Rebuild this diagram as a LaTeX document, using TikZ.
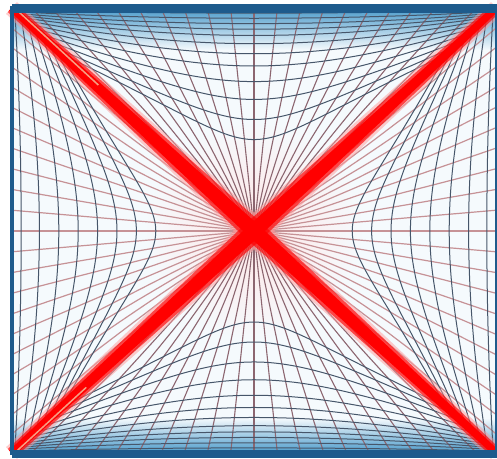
\documentclass[tikz,border=0pt]{standalone}
\usetikzlibrary{calc}
\definecolor{frameblue}{HTML}{1E5B8C}
\definecolor{bgc}{HTML}{F5FAFD}
\definecolor{edgeblue}{HTML}{4B9BCB}
\definecolor{radtb}{HTML}{8C6670}
\definecolor{radlr}{HTML}{C69296}
\definecolor{crossc}{HTML}{46566A}
\definecolor{lightline}{HTML}{F7B090}
\newcommand\myband[4]{%
  \fill[#4] ($(#1)!#2!90:(C)$) -- ($(C)!#3!-90:(#1)$) -- ($(C)!#3!90:(#1)$) -- ($(#1)!#2!-90:(C)$) -- cycle;}
\begin{document}
\begin{tikzpicture}[x=1pt,y=1pt,
  radtbline/.style={draw=radtb,line width=1.1pt},
  radlrline/.style={draw=radlr,line width=1.2pt},
  crossline/.style={draw=crossc,line width=1pt},
  bandouter/.style={fill=red!40,opacity=0.5},
  bandmid/.style={fill=red,opacity=0.65},
  bandcore/.style={fill=red},
  lightstroke/.style={draw=lightline,line width=1.5pt,opacity=0.9}]
\useasboundingbox (0,0) rectangle (497,458);
\def\cx{254}\def\cy{227}\def\W{242.5}\def\Ht{223}\def\Hb{222}\def\Hm{222.5}
\coordinate (C) at (\cx,\cy);
\coordinate (TL) at (11.5,450);
\coordinate (TR) at (496.5,450);
\coordinate (BL) at (11.5,5);
\coordinate (BR) at (496.5,5);
\begin{scope}
\clip (0,0) rectangle (497,458);
\fill[bgc] (BL) rectangle (TR);
\shade[top color=edgeblue, bottom color=bgc] (11.5,408) rectangle (496.5,450);
\shade[top color=bgc, bottom color=edgeblue] (11.5,5) rectangle (496.5,40);
\shade[inner color=red!10, outer color=bgc] (C) circle (110);
% radial lines
\foreach \i in {1,...,21} {
  \pgfmathsetmacro\s{-1+2*\i/22}
  \pgfmathsetmacro\u{\s+0.06*\s*(1-\s*\s)}
  \pgfmathsetmacro\v{\s+0.03*\s*(1-\s*\s)}
  \draw[radtbline] (C) -- ({\cx+\W*\u},{\cy+\Ht});
  \draw[radtbline] (C) -- ({\cx+\W*\u},{\cy-\Hb});
  \draw[radlrline] (C) -- ({\cx-\W},{\cy+\Hm*\v});
  \draw[radlrline] (C) -- ({\cx+\W},{\cy+\Hm*\v});
}
% cross curves, top and bottom
\foreach \g in {0.023,0.046,0.07,0.095,0.123,0.16,0.205,0.26,0.33,0.41,0.5,0.59} {
  \draw[crossline] plot[domain=-1:1,samples=61,smooth]
    ({\cx+(1-\g*(1-0.65*(\x)*(\x)))*\W*((\x)+0.06*(\x)*(1-(\x)*(\x)))},
     {\cy+(1-\g*(1-0.65*(\x)*(\x)))*\Ht});
  \draw[crossline] plot[domain=-1:1,samples=61,smooth]
    ({\cx+(1-\g*(1-0.65*(\x)*(\x)))*\W*((\x)+0.06*(\x)*(1-(\x)*(\x)))},
     {\cy-(1-\g*(1-0.65*(\x)*(\x)))*\Hb});
}
% cross curves, left and right
\foreach \g in {0.04,0.115,0.195,0.275,0.355,0.435,0.515,0.595} {
  \draw[crossline] plot[domain=-1:1,samples=61,smooth]
    ({\cx-(1-\g*(1-0.65*(\x)*(\x)))*\W},
     {\cy+(1-\g*(1-0.65*(\x)*(\x)))*\Hm*((\x)+0.03*(\x)*(1-(\x)*(\x)))});
  \draw[crossline] plot[domain=-1:1,samples=61,smooth]
    ({\cx+(1-\g*(1-0.65*(\x)*(\x)))*\W},
     {\cy+(1-\g*(1-0.65*(\x)*(\x)))*\Hm*((\x)+0.03*(\x)*(1-(\x)*(\x)))});
}
% red diagonal band
\foreach \k in {TL,TR,BL,BR} {\myband{\k}{8pt}{14pt}{bandouter}}
\foreach \k in {TL,TR,BL,BR} {\myband{\k}{5.5pt}{11pt}{bandmid}}
\foreach \k in {TL,TR,BL,BR} {\myband{\k}{3.5pt}{7.5pt}{bandcore}}
\draw[lightstroke] ([shift={(2,1)}]TL) -- ([shift={(2,1)}]$(TL)!0.35!(C)$);
\draw[lightstroke] ([shift={(2,-1)}]BL) -- ([shift={(2,-1)}]$(BL)!0.3!(C)$);
% frame
\fill[frameblue] (11.5,445) rectangle (497,454);
\fill[frameblue] (11.5,0) rectangle (497,8);
\draw[frameblue,line width=4pt] (BL) rectangle (TR);
\end{scope}
\end{tikzpicture}
\end{document}
